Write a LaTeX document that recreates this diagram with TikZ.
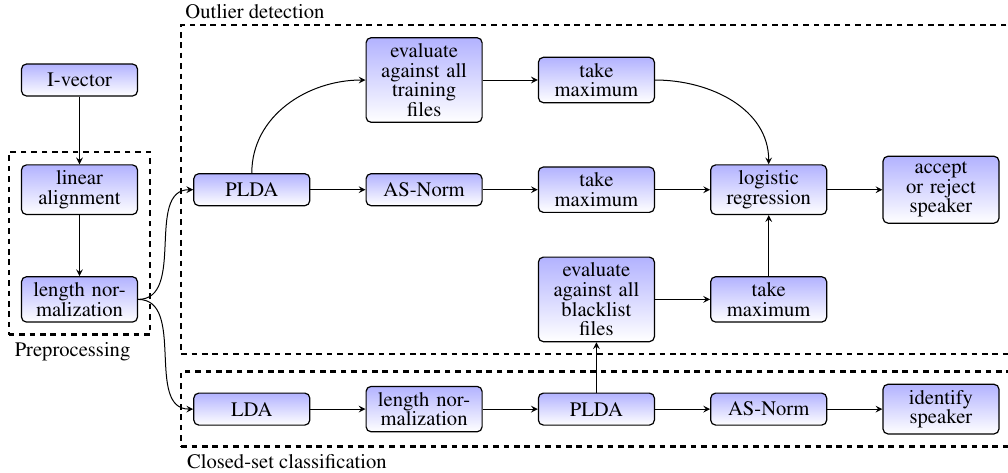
\documentclass[tikz,border=0pt]{standalone}
\usepackage[T1]{fontenc}
\usepackage{mathptmx}
\usetikzlibrary{fit}

\begin{document}
\begin{tikzpicture}[x=86.15pt, y=-54.85pt, >=stealth,
  font=\fontsize{10.3}{9.8}\selectfont,
  stage/.style={draw, semithick, rounded corners=2.5pt, top color=blue!30, bottom color=white,
    minimum height=16pt, text width=48pt, align=center, inner xsep=5pt, inner ysep=2.9pt},
  groupbox/.style={draw, very thick, dash pattern=on 2.8pt off 2.4pt, inner sep=6pt},
  flow/.style={->, line width=0.5pt}]
  \useasboundingbox (-39.75pt,40pt) rectangle (464.25pt,-196pt);

  % preprocessing
  \node[stage] (ivec) at (0,0) {I-vector};
  \node[stage] (align) at (0,1) {linear\\alignment};
  \node[stage] (lnormA) at (0,2) {length nor-\\malization};

  % outlier detection
  \node[stage] (pldaA) at (1,1) {PLDA};
  \node[stage] (evaltrain) at (2,0) {evaluate\\against all\\training\\files};
  \node[stage] (maxtrain) at (3,0) {take\\maximum};
  \node[stage] (asnormA) at (2,1) {AS-Norm};
  \node[stage] (maxA) at (3,1) {take\\maximum};
  \node[stage] (logreg) at (4,1) {logistic\\regression};
  \node[stage] (accept) at (5,1) {accept\\or reject\\speaker};
  \node[stage] (evalblack) at (3,2) {evaluate\\against all\\blacklist\\files};
  \node[stage] (maxblack) at (4,2) {take\\maximum};

  % closed-set classification
  \node[stage] (lda) at (1,3) {LDA};
  \node[stage] (lnormB) at (2,3) {length nor-\\malization};
  \node[stage] (pldaB) at (3,3) {PLDA};
  \node[stage] (asnormB) at (4,3) {AS-Norm};
  \node[stage] (identify) at (5,3) {identify\\speaker};

  % groups
  \node[groupbox, fit=(align)(lnormA)] (pre) {};
  \node[groupbox, fit=(pldaA)(evaltrain)(evalblack)(accept)] (outlier) {};
  \node[groupbox, fit=(lda)(identify)] (closed) {};
  \node[below right] (prelbl) at (pre.south west) {Preprocessing};
  \node[above right, inner sep=2.5pt] (outlierlbl) at (outlier.north west) {Outlier detection};
  \node[below right] (closedlbl) at (closed.south west) {Closed-set classification};

  \foreach \a/\b in {ivec/align, align/lnormA, pldaA/asnormA, asnormA/maxA, maxA/logreg,
    logreg/accept, evaltrain/maxtrain, evalblack/maxblack, maxblack/logreg,
    lda/lnormB, lnormB/pldaB, pldaB/asnormB, asnormB/identify, pldaB/evalblack}
    \draw[flow] (\a) -- (\b);
  \draw[flow] (lnormA.east) to[out=0, in=180] (pldaA.west);
  \draw[flow] (lnormA.east) to[out=0, in=180] (lda.west);
  \draw[flow] (pldaA.north) to[out=90, in=180] (evaltrain.west);
  \draw[flow] (maxtrain.east) to[out=0, in=90] (logreg.north);
\end{tikzpicture}
\end{document}
